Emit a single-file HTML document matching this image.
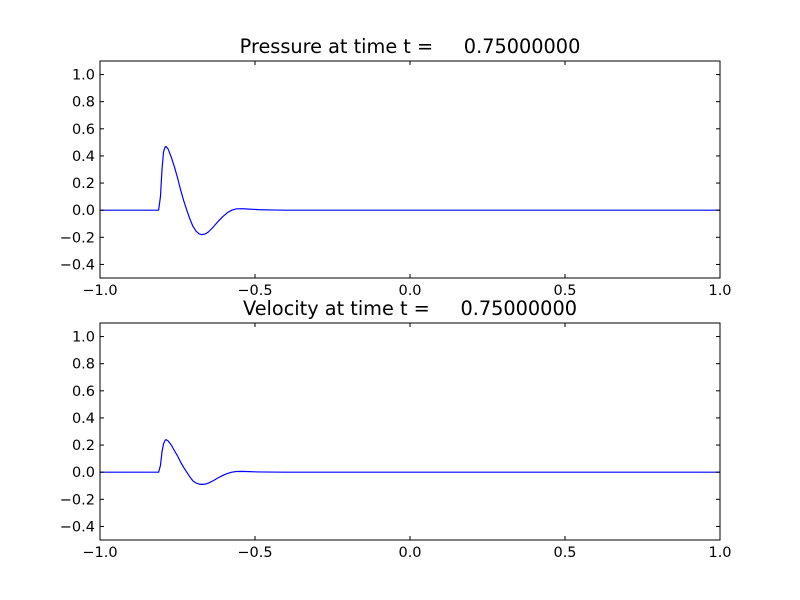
<!DOCTYPE html>
<html><head><meta charset="utf-8"><style>
body{margin:0;background:#fff}
svg{display:block;font-family:"DejaVu Sans","Liberation Sans",sans-serif}
</style></head><body>
<svg id="c" width="800" height="600" viewBox="0 0 800 600">
<rect width="800" height="600" fill="#fff"/>
</svg>
<script>
const xs = [-1.0,-0.811,-0.805,-0.80,-0.795,-0.79,-0.787,-0.78,-0.77,-0.76,-0.75,-0.74,-0.73,-0.72,-0.71,-0.70,-0.69,-0.68,-0.672,-0.66,-0.65,-0.635,-0.62,-0.605,-0.59,-0.575,-0.56,-0.54,-0.52,-0.49,-0.45,-0.40,1.0];
const pressure = [0,0,0.1,0.3,0.43,0.465,0.47,0.45,0.39,0.32,0.24,0.15,0.07,0.0,-0.065,-0.12,-0.155,-0.175,-0.18,-0.175,-0.16,-0.125,-0.085,-0.05,-0.02,0.0,0.01,0.011,0.008,0.004,0.002,0,0];
const velocity = [0,0,0.05,0.15,0.21,0.235,0.24,0.23,0.2,0.16,0.12,0.075,0.035,0.0,-0.035,-0.065,-0.08,-0.088,-0.09,-0.088,-0.08,-0.063,-0.043,-0.025,-0.01,0.0,0.005,0.006,0.004,0.002,0.001,0,0];
const xTicks = [-1.0,-0.5,0.0,0.5,1.0];
const yTicks = [-0.4,-0.2,0.0,0.2,0.4,0.6,0.8,1.0];
const panels = [
  {name:'pressure', title:'Pressure at time t =     0.75000000', top:61, data:pressure, ty:53},
  {name:'velocity', title:'Velocity at time t =     0.75000000', top:323, data:velocity, ty:315}
];
const svg = document.getElementById('c');
const NS = 'http://www.w3.org/2000/svg';
function mk(tag, attrs, parent){const e=document.createElementNS(NS,tag);for(const k in attrs)e.setAttribute(k,attrs[k]);(parent||svg).appendChild(e);return e;}
const L=100,R=720,H=217;
const sx = v => L + (v+1)/2*(R-L);
panels.forEach(p=>{
  const g = mk('g',{});
  
  
  const sy = v => p.top + H - (v+0.5)/1.6*H;
  const d = xs.map((x,i)=>(i?'L':'M')+sx(x).toFixed(2)+' '+sy(p.data[i]).toFixed(2)).join(' ');
  const line = mk('path',{d:d,fill:'none',stroke:'#0000ff','stroke-width':1.2,'stroke-linejoin':'round'},g);
  
  
  const frame = mk('rect',{x:L,y:p.top,width:R-L,height:H,fill:'none',stroke:'#000','stroke-width':1},g);
  
  
  xTicks.forEach(t=>{
    const x=sx(t);
    mk('line',{x1:x,x2:x,y1:p.top+H,y2:p.top+H-4,stroke:'#000'},g);
    mk('line',{x1:x,x2:x,y1:p.top,y2:p.top+4,stroke:'#000'},g);
    const tx = mk('text',{x:x,y:p.top+H+17,'font-size':14.5,'text-anchor':'middle'},g);
    tx.textContent = (t<0?'\u2212':'')+Math.abs(t).toFixed(1);
    
    
  });
  yTicks.forEach(t=>{
    const y=sy(t);
    mk('line',{x1:L,x2:L+4,y1:y,y2:y,stroke:'#000'},g);
    mk('line',{x1:R,x2:R-4,y1:y,y2:y,stroke:'#000'},g);
    const ty = mk('text',{x:L-5,y:y+5,'font-size':14.5,'text-anchor':'end'},g);
    ty.textContent = (t<0?'\u2212':'')+Math.abs(t).toFixed(1);
    
    
  });
  const tt = mk('text',{x:410,y:p.ty,'font-size':19.3,'text-anchor':'middle','xml:space':'preserve'},g);
  tt.style.whiteSpace='pre';
  tt.textContent = p.title;
  
  
});
</script>
</body></html>
